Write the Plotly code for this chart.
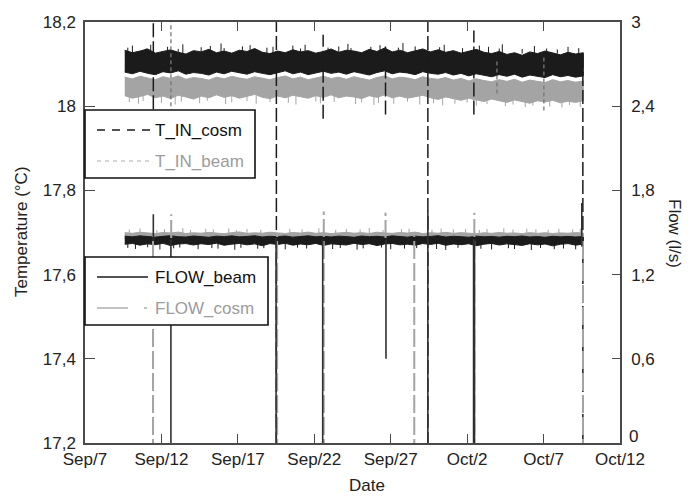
import plotly.graph_objects as go
import pandas as pd

# ---------------- data ----------------
BASE = pd.Timestamp("2011-08-31")          # day numbers below are "day of September" (Oct d = 30 + d)
band_start_day = 9.6                       # records start Sep 9.6; envelope values every half day
band_step_days = 0.5

# half-daily envelope (upper / lower) of the dense noisy temperature records, °C
t_cosm_hi = [18.133, 18.127, 18.131, 18.136, 18.126, 18.130, 18.134, 18.128, 18.124, 18.132,
             18.129, 18.135, 18.127, 18.131, 18.126, 18.133, 18.130, 18.137, 18.128, 18.125,
             18.131, 18.127, 18.134, 18.129, 18.132, 18.126, 18.130, 18.136, 18.128, 18.133,
             18.131, 18.127, 18.135, 18.130, 18.138, 18.129, 18.133, 18.127, 18.131, 18.136,
             18.129, 18.134, 18.128, 18.132, 18.126, 18.131, 18.135, 18.128, 18.125, 18.130,
             18.123, 18.127, 18.121, 18.129, 18.125, 18.131, 18.126, 18.122, 18.128, 18.124, 18.127]
t_cosm_lo = [18.081, 18.077, 18.083, 18.078, 18.075, 18.082, 18.079, 18.084, 18.076, 18.080,
             18.078, 18.074, 18.081, 18.077, 18.083, 18.079, 18.076, 18.082, 18.078, 18.075,
             18.080, 18.084, 18.077, 18.081, 18.075, 18.079, 18.083, 18.078, 18.081, 18.076,
             18.082, 18.078, 18.074, 18.080, 18.084, 18.077, 18.081, 18.079, 18.075, 18.082,
             18.078, 18.076, 18.080, 18.074, 18.078, 18.072, 18.077, 18.073, 18.070, 18.075,
             18.071, 18.076, 18.069, 18.074, 18.071, 18.068, 18.075, 18.070, 18.073, 18.069, 18.072]
t_beam_hi = [18.069, 18.065, 18.071, 18.067, 18.063, 18.070, 18.066, 18.072, 18.064, 18.068,
             18.066, 18.062, 18.069, 18.065, 18.071, 18.067, 18.064, 18.070, 18.066, 18.063,
             18.068, 18.072, 18.065, 18.069, 18.063, 18.067, 18.071, 18.066, 18.069, 18.064,
             18.070, 18.066, 18.062, 18.068, 18.072, 18.065, 18.069, 18.067, 18.063, 18.070,
             18.066, 18.064, 18.068, 18.062, 18.066, 18.060, 18.065, 18.061, 18.058, 18.063,
             18.059, 18.064, 18.057, 18.062, 18.059, 18.056, 18.063, 18.058, 18.061, 18.057, 18.060]
t_beam_lo = [18.025, 18.019, 18.023, 18.028, 18.020, 18.024, 18.018, 18.026, 18.022, 18.017,
             18.024, 18.020, 18.027, 18.021, 18.025, 18.019, 18.023, 18.028, 18.021, 18.018,
             18.024, 18.020, 18.026, 18.022, 18.019, 18.025, 18.021, 18.027, 18.020, 18.024,
             18.022, 18.018, 18.025, 18.021, 18.027, 18.020, 18.024, 18.019, 18.023, 18.026,
             18.020, 18.016, 18.022, 18.018, 18.014, 18.019, 18.015, 18.011, 18.017, 18.013,
             18.009, 18.015, 18.011, 18.007, 18.013, 18.010, 18.014, 18.008, 18.012, 18.009, 18.013]

# half-daily envelope of the flow records, l/s
flow_beam_hi = [1.474, 1.469, 1.476, 1.471, 1.467, 1.473, 1.477, 1.470, 1.468, 1.475,
                1.471, 1.466, 1.474, 1.470, 1.476, 1.469, 1.472, 1.477, 1.468, 1.473,
                1.470, 1.475, 1.467, 1.472, 1.476, 1.469, 1.473, 1.468, 1.474, 1.471,
                1.466, 1.475, 1.470, 1.473, 1.468, 1.476, 1.471, 1.467, 1.474, 1.469,
                1.472, 1.477, 1.468, 1.473, 1.470, 1.466, 1.474, 1.469, 1.472, 1.467,
                1.473, 1.470, 1.475, 1.468, 1.471, 1.466, 1.473, 1.469, 1.472, 1.468, 1.471]
flow_beam_lo = [1.416, 1.422, 1.410, 1.419, 1.413, 1.423, 1.407, 1.418, 1.421, 1.411,
                1.420, 1.414, 1.424, 1.409, 1.417, 1.422, 1.412, 1.419, 1.406, 1.421,
                1.415, 1.423, 1.410, 1.418, 1.413, 1.422, 1.408, 1.419, 1.416, 1.411,
                1.423, 1.414, 1.420, 1.407, 1.418, 1.422, 1.412, 1.417, 1.410, 1.421,
                1.415, 1.423, 1.409, 1.418, 1.413, 1.420, 1.406, 1.417, 1.422, 1.411,
                1.419, 1.414, 1.408, 1.420, 1.412, 1.418, 1.405, 1.416, 1.421, 1.410, 1.417]
flow_cosm_hi = [1.499, 1.494, 1.502, 1.496, 1.492, 1.500, 1.497, 1.503, 1.493, 1.498,
                1.495, 1.501, 1.496, 1.491, 1.499, 1.504, 1.494, 1.498, 1.495, 1.502,
                1.497, 1.493, 1.500, 1.496, 1.503, 1.494, 1.499, 1.492, 1.497, 1.501,
                1.495, 1.499, 1.493, 1.502, 1.497, 1.494, 1.500, 1.496, 1.503, 1.492,
                1.498, 1.495, 1.501, 1.494, 1.499, 1.496, 1.491, 1.498, 1.494, 1.500,
                1.495, 1.497, 1.492, 1.499, 1.494, 1.498, 1.493, 1.497, 1.495, 1.499, 1.496]
flow_cosm_lo = [1.456, 1.452, 1.458, 1.453, 1.457, 1.451, 1.455, 1.459, 1.454, 1.450,
                1.457, 1.453, 1.456, 1.452, 1.459, 1.455, 1.451, 1.457, 1.454, 1.458,
                1.452, 1.456, 1.453, 1.450, 1.455, 1.459, 1.454, 1.457, 1.451, 1.456,
                1.453, 1.458, 1.455, 1.452, 1.457, 1.450, 1.454, 1.459, 1.453, 1.456,
                1.451, 1.455, 1.458, 1.452, 1.457, 1.454, 1.450, 1.456, 1.453, 1.458,
                1.455, 1.451, 1.457, 1.454, 1.452, 1.456, 1.459, 1.453, 1.455, 1.451, 1.454]

# short noise excursions just beyond the envelopes (day, extreme value)
t_cosm_fringe_day = [9.8, 10.1, 11.0, 11.3, 12.4, 13.1, 13.4, 14.6, 15.2, 15.9, 16.1, 17.3, 17.8,
                     18.9, 19.3, 20.6, 21.1, 21.4, 22.9, 23.6, 24.2, 24.4, 25.7, 26.3, 27.5, 27.8,
                     28.6, 30.2, 30.5, 31.7, 32.8, 33.4, 34.1, 34.3, 35.6, 36.4, 37.2, 37.9, 38.6, 39.3]
t_cosm_fringe_hi = [18.139, 18.144, 18.137, 18.146, 18.141, 18.136, 18.147, 18.140, 18.143, 18.149,
                    18.138, 18.142, 18.145, 18.139, 18.141, 18.144, 18.137, 18.146, 18.139, 18.142,
                    18.148, 18.138, 18.141, 18.145, 18.139, 18.150, 18.142, 18.140, 18.146, 18.138,
                    18.144, 18.141, 18.137, 18.147, 18.136, 18.143, 18.137, 18.135, 18.141, 18.138]
t_beam_fringe_day = [9.9, 10.5, 10.8, 12.0, 12.9, 13.3, 14.5, 15.0, 16.2, 16.6, 17.6, 18.2, 19.1,
                     20.3, 20.8, 22.1, 22.4, 23.3, 24.7, 25.1, 25.9, 26.2, 27.2, 28.1, 28.9, 29.8,
                     30.4, 31.2, 32.0, 32.6, 33.3, 34.5, 35.0, 35.8, 36.3, 37.4, 38.2, 38.7, 39.4]
t_beam_fringe_lo = [18.010, 18.006, 18.012, 18.008, 18.004, 18.011, 18.007, 18.013, 18.005, 18.009,
                    18.012, 18.006, 18.010, 18.008, 18.004, 18.011, 18.007, 18.010, 18.005, 18.009,
                    18.003, 18.008, 18.006, 18.011, 18.004, 18.007, 18.002, 18.006, 18.009, 18.001,
                    18.005, 18.000, 18.004, 17.998, 18.002, 17.999, 17.997, 18.003, 17.998]
flow_beam_fringe_day = [9.8, 10.3, 11.1, 11.9, 12.8, 13.2, 14.4, 15.3, 15.7, 16.8, 17.2, 18.3, 18.7,
                        20.1, 20.9, 21.5, 23.2, 23.7, 24.8, 25.2, 26.4, 27.0, 27.9, 28.7, 30.0, 30.6,
                        31.4, 32.9, 33.6, 34.7, 35.1, 36.2, 36.8, 37.7, 38.3, 39.1]
flow_beam_fringe_lo = [1.390, 1.383, 1.395, 1.379, 1.387, 1.393, 1.381, 1.389, 1.385, 1.377,
                       1.391, 1.384, 1.388, 1.380, 1.392, 1.386, 1.382, 1.390, 1.378, 1.387,
                       1.393, 1.381, 1.385, 1.389, 1.383, 1.376, 1.391, 1.384, 1.379, 1.388,
                       1.382, 1.375, 1.390, 1.381, 1.386, 1.380]
flow_cosm_fringe_day = [9.9, 10.6, 11.7, 12.2, 13.4, 13.9, 14.9, 15.4, 16.4, 16.9, 17.6, 18.5, 20.4,
                        21.2, 22.3, 23.4, 24.1, 25.0, 25.6, 26.5, 27.7, 28.2, 29.7, 30.3, 31.1, 31.9,
                        32.8, 33.3, 34.4, 35.0, 35.9, 36.5, 37.3, 38.0, 38.9, 39.4]
flow_cosm_fringe_hi = [1.521, 1.528, 1.516, 1.524, 1.531, 1.518, 1.526, 1.522, 1.529, 1.517,
                       1.525, 1.520, 1.527, 1.523, 1.530, 1.519, 1.526, 1.521, 1.532, 1.518,
                       1.524, 1.527, 1.520, 1.529, 1.522, 1.526, 1.518, 1.525, 1.530, 1.521,
                       1.527, 1.523, 1.519, 1.526, 1.522, 1.528]

# excursions / dropouts (day, low end, high end)
t_cosm_event_day = [11.47, 19.52, 22.58, 26.66, 29.43, 32.44, 39.57]
t_cosm_event_lo  = [17.95, 17.15, 17.97, 17.98, 17.15, 17.98, 17.15]
t_cosm_event_hi  = [18.25, 18.25, 18.17, 18.15, 18.25, 18.18, 18.13]
t_beam_event_day = [12.62, 33.95, 37.02]
t_beam_event_lo  = [17.95, 18.03, 17.99]
t_beam_event_hi  = [18.25, 18.11, 18.12]
flow_beam_event_day = [11.47, 12.62, 19.50, 22.55, 26.69, 29.43, 32.42, 32.48, 39.50]
flow_beam_event_lo  = [1.44, -0.10, -0.10, -0.10, 0.60, -0.10, -0.10, -0.10, 1.40]
flow_beam_event_hi  = [1.63, 1.45, 1.46, 1.45, 1.45, 1.65, 1.45, 1.45, 1.71]
flow_cosm_event_day = [11.45, 12.64, 19.57, 22.62, 26.66, 28.54, 32.47, 39.58]
flow_cosm_event_lo  = [-0.10, 1.46, -0.10, -0.10, 1.46, -0.10, -0.10, -0.10]
flow_cosm_event_hi  = [1.49, 1.63, 1.49, 1.65, 1.64, 1.48, 1.64, 1.49]

# axes
x_tick_days = [7, 12, 17, 22, 27, 32, 37, 42]
x_tick_text = ["Sep/7", "Sep/12", "Sep/17", "Sep/22", "Sep/27", "Oct/2", "Oct/7", "Oct/12"]
t_ticks = [17.2, 17.4, 17.6, 17.8, 18.0, 18.2]
t_tick_text = ["17,2", "17,4", "17,6", "17,8", "18", "18,2"]
f_ticks = [0, 0.6, 1.2, 1.8, 2.4, 3.0]
f_tick_text = ["0", "0,6", "1,2", "1,8", "2,4", "3"]

# ---------------- styling ----------------
BLACK = "#1b1b1b"
GRAY = "#a4a4a4"
GRAY_TXT = "#9c9c9c"
AXIS = "#4a4a4a"
FONT = "Arial, Liberation Sans, Helvetica, sans-serif"
FS = 17


def day(d):
    return BASE + pd.Timedelta(days=d)


def band(hi, lo):
    dates = [day(band_start_day + band_step_days * i) for i in range(len(hi))]
    return dates + dates[::-1], list(hi) + list(lo)[::-1]


def segs(days, lo, hi):
    xs, ys = [], []
    for d, a, b in zip(days, lo, hi):
        t = day(d)
        xs += [t, t, None]
        ys += [a, b, None]
    return xs, ys


fig = go.Figure()


def add_band(hi, lo, color, yaxis):
    x, y = band(hi, lo)
    fig.add_trace(go.Scatter(x=x, y=y, mode="lines", fill="toself", fillcolor=color,
                             line=dict(color=color, width=1), yaxis=yaxis,
                             showlegend=False, hoverinfo="skip"))


def add_segs(days, lo, hi, color, width, dash, yaxis):
    x, y = segs(days, lo, hi)
    fig.add_trace(go.Scatter(x=x, y=y, mode="lines", line=dict(color=color, width=width, dash=dash),
                             yaxis=yaxis, showlegend=False, hoverinfo="skip", connectgaps=False))


# temperature records (fringe segments start inside the band)
add_band(t_beam_hi, t_beam_lo, GRAY, "y")
add_segs(t_beam_fringe_day, t_beam_fringe_lo, [18.025] * len(t_beam_fringe_day), GRAY, 1, "solid", "y")
add_band(t_cosm_hi, t_cosm_lo, BLACK, "y")
add_segs(t_cosm_fringe_day, [18.125] * len(t_cosm_fringe_day), t_cosm_fringe_hi, BLACK, 1, "solid", "y")

# flow records
add_band(flow_cosm_hi, flow_cosm_lo, GRAY, "y2")
add_segs(flow_cosm_fringe_day, [1.49] * len(flow_cosm_fringe_day), flow_cosm_fringe_hi, GRAY, 1, "solid", "y2")
add_band(flow_beam_hi, flow_beam_lo, BLACK, "y2")
add_segs(flow_beam_fringe_day, flow_beam_fringe_lo, [1.44] * len(flow_beam_fringe_day), BLACK, 1, "solid", "y2")

# excursions / dropouts
add_segs(flow_cosm_event_day, flow_cosm_event_lo, flow_cosm_event_hi, GRAY, 2, "18px,4px", "y2")
add_segs(flow_beam_event_day, flow_beam_event_lo, flow_beam_event_hi, "#303030", 1.6, "solid", "y2")
add_segs(t_beam_event_day, t_beam_event_lo, t_beam_event_hi, "#777777", 1.3, "4px,3px", "y")
add_segs(t_cosm_event_day, t_cosm_event_lo, t_cosm_event_hi, BLACK, 1.5, "14px,4px", "y")

# ---------------- layout ----------------
L, R, T, B = 85, 620, 22, 443


def px(X):
    return (X - L) / (R - L)


def py(Y):
    return (B - Y) / (B - T)


TXT = "#222222"
tick_font = dict(family=FONT, size=FS, color=TXT)
# the flow axis' "0" sits right against "Oct/12"; it is written as its own label, nudged up a little
f_axis_text = [""] + f_tick_text[1:]
fig.update_layout(
    width=697, height=496, autosize=False,
    margin=dict(l=L, r=697 - R, t=T, b=496 - B),
    paper_bgcolor="white", plot_bgcolor="white",
    showlegend=False,
    xaxis=dict(type="date", range=[day(7), day(42)],
               tickvals=[day(d) for d in x_tick_days], ticktext=x_tick_text,
               ticks="inside", ticklen=9, tickwidth=1.3, tickcolor=AXIS,
               showline=True, linecolor=AXIS, linewidth=1.5, mirror="ticks",
               showgrid=False, zeroline=False, tickfont=tick_font),
    yaxis=dict(range=[17.2, 18.2], tickvals=t_ticks, ticktext=t_tick_text,
               ticks="inside", ticklen=10, tickwidth=1.3, tickcolor=AXIS,
               showline=True, linecolor=AXIS, linewidth=1.5,
               showgrid=False, zeroline=False, tickfont=tick_font, ticklabelstandoff=4),
    yaxis2=dict(range=[0, 3], tickvals=f_ticks, ticktext=f_axis_text, overlaying="y", side="right",
                ticks="inside", ticklen=8, tickwidth=1.3, tickcolor=AXIS,
                showline=True, linecolor=AXIS, linewidth=1.5,
                showgrid=False, zeroline=False, tickfont=tick_font, ticklabelstandoff=6),
)
fig.add_annotation(text=f_tick_text[0], xref="paper", yref="paper", x=px(627), y=py(436),
                   showarrow=False, xanchor="left", yanchor="middle", font=tick_font)

# axis titles
fig.add_annotation(text="Temperature (°C)", xref="paper", yref="paper", x=px(21), y=py(232),
                   textangle=-90, showarrow=False, font=tick_font,
                   xanchor="center", yanchor="middle")
fig.add_annotation(text="Flow (l/s)", xref="paper", yref="paper", x=px(675), y=py(233),
                   textangle=90, showarrow=False, font=tick_font,
                   xanchor="center", yanchor="middle")
fig.add_annotation(text="Date", xref="paper", yref="paper", x=px(367), y=py(486),
                   showarrow=False, font=tick_font, xanchor="center", yanchor="middle")

# legend boxes (drawn like the original framed keys)
legend_boxes = [(85, 255, 110, 178), (85, 268, 257, 325)]
for x0, x1, y0, y1 in legend_boxes:
    fig.add_shape(type="rect", xref="paper", yref="paper", x0=px(x0), x1=px(x1), y0=py(y1), y1=py(y0),
                  line=dict(color="#111111", width=1.6), fillcolor="white", layer="above")

legend_items = [
    ("T_IN_cosm", 130, BLACK, "8px,7px", 1.4, "#111111", 150),
    ("T_IN_beam", 161, "#b0b0b0", "4px,4px", 1.2, GRAY_TXT, 150),
    ("FLOW_beam", 277, BLACK, "solid", 1.4, "#111111", 148),
    ("FLOW_cosm", 308, "#b0b0b0", "31px,16px,3px,40px", 1.4, GRAY_TXT, 150),
]
for name, yy, lc, dash, lw, tc, xend in legend_items:
    fig.add_shape(type="line", xref="paper", yref="paper", x0=px(97), x1=px(xend), y0=py(yy), y1=py(yy),
                  line=dict(color=lc, width=lw, dash=dash), layer="above")
    fig.add_annotation(text=name, xref="paper", yref="paper", x=px(153), y=py(yy), showarrow=False,
                       xanchor="left", yanchor="middle", font=dict(family=FONT, size=FS, color=tc))

fig.write_html("out.html")
